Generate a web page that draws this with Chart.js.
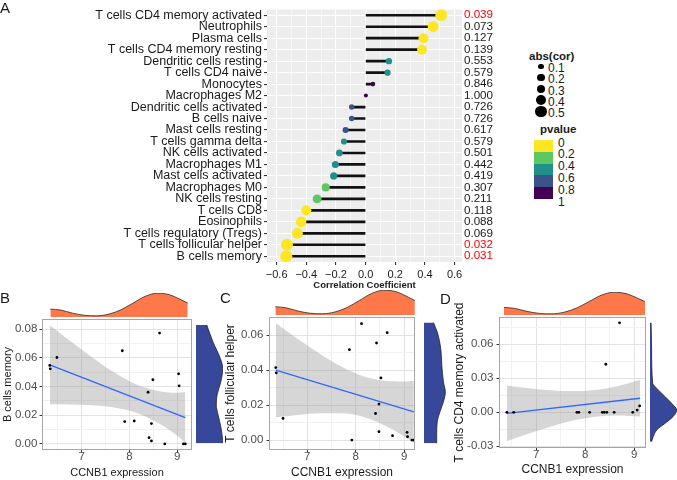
<!DOCTYPE html>
<html>
<head>
<meta charset="utf-8">
<script src="https://cdn.jsdelivr.net/npm/chart.js@4.4.1/dist/chart.umd.min.js"></script>
<style>
  html, body { margin: 0; padding: 0; background: #fff; }
  #fig { position: relative; width: 677px; height: 480px; overflow: hidden;
         font-family: "Liberation Sans", Arial, Helvetica, sans-serif; color: #1a1a1a; }
  #fig canvas { position: absolute; }
  .tag { position: absolute; font-size: 15px; line-height: 15px; }
  .leg { position: absolute; font-size: 12px; line-height: 12px; white-space: nowrap; }
  .legTitle { position: absolute; font-size: 11.5px; line-height: 12px; font-weight: bold; white-space: nowrap; }
</style>
</head>
<body>
<div id="fig"></div>
<script>
// ---------- panel A : correlation of CCNB1 with immune cell fractions ----------
const cellTypes = ['T cells CD4 memory activated', 'Neutrophils', 'Plasma cells', 'T cells CD4 memory resting',
  'Dendritic cells resting', 'T cells CD4 naive', 'Monocytes', 'Macrophages M2', 'Dendritic cells activated',
  'B cells naive', 'Mast cells resting', 'T cells gamma delta', 'NK cells activated', 'Macrophages M1',
  'Mast cells activated', 'Macrophages M0', 'NK cells resting', 'T cells CD8', 'Eosinophils',
  'T cells regulatory (Tregs)', 'T cells follicular helper', 'B cells memory'];
const corValues = [0.51, 0.455, 0.39, 0.38, 0.157, 0.148, 0.049, 0.002, -0.094, -0.094, -0.135, -0.146,
  -0.177, -0.204, -0.215, -0.269, -0.327, -0.40, -0.435, -0.46, -0.53, -0.535];
const pValues = [0.039, 0.073, 0.127, 0.139, 0.553, 0.579, 0.846, 1.000, 0.726, 0.726, 0.617, 0.579,
  0.501, 0.442, 0.419, 0.307, 0.211, 0.118, 0.088, 0.069, 0.032, 0.031];
const corTicks = [-0.6, -0.4, -0.2, 0, 0.2, 0.4, 0.6];
const corTickLabels = ['\u22120.6', '\u22120.4', '\u22120.2', '0.0', '0.2', '0.4', '0.6'];
const sizeLegend = [0.1, 0.2, 0.3, 0.4, 0.5];
const pBreakLabels = ['0', '0.2', '0.4', '0.6', '0.8', '1'];
const pColors = ['#FDE725', '#5DC863', '#21908C', '#3B528B', '#440154'];

// ---------- panels B-D : CCNB1 expression vs cell fraction ----------
const bExpr = [6.33, 6.34, 6.48, 7.85, 7.90, 8.10, 8.39, 8.41, 8.46, 8.46, 8.49, 8.63, 8.74, 9.03, 9.04, 9.13, 9.17];
const bMemory = [0.0547, 0.0523, 0.0602, 0.0649, 0.0156, 0.016, 0.036, 0.0044, 0.0142, 0.0021, 0.0447, 0.0772, 0, 0.0488, 0.0405, 0, 0];
const cExpr = [6.35, 6.36, 6.50, 7.87, 7.92, 8.12, 8.41, 8.43, 8.48, 8.48, 8.52, 8.65, 8.76, 9.06, 9.07, 9.16, 9.20];
const cTfh = [0.0415, 0.0385, 0.0124, 0.0518, 0, 0.0667, 0.0152, 0.0556, 0.0048, 0.0206, 0.0356, 0.0615, 0.0025, 0.0044, 0.0019, 0, 0];
const dExpr = [6.40, 6.54, 7.83, 7.87, 8.09, 8.35, 8.39, 8.42, 8.44, 8.59, 8.70, 8.97, 9.06, 9.11];
const dCd4 = [0, 0, 0, 0, 0, 0, 0, 0.0424, 0, 0, 0.079, 0, 0.002, 0.0056];

const exprTicks = [7, 8, 9];
const bTicks = [0, 0.02, 0.04, 0.06, 0.08];
const cTicks = [0, 0.02, 0.04, 0.06];
const dTicks = [-0.03, 0, 0.03, 0.06];

// fitted lines and confidence bands
const bFitX = [6.33, 9.17], bFitY = [0.0551, 0.0184];
const bBandX = [6.33, 6.75, 7.2, 7.65, 8.1, 8.55, 9.0, 9.17];
const bBandHi = [0.0826, 0.0719, 0.0608, 0.0504, 0.0421, 0.0373, 0.0356, 0.0362];
const bBandLo = [0.0277, 0.0275, 0.027, 0.0256, 0.0223, 0.0155, 0.0059, 0.0010];
const cFitX = [6.35, 9.2], cFitY = [0.040, 0.0162];
const cBandX = [6.35, 6.8, 7.25, 7.7, 8.15, 8.6, 9.0, 9.2];
const cBandHi = [0.067, 0.058, 0.0496, 0.0421, 0.0366, 0.034, 0.0336, 0.0338];
const cBandLo = [0.013, 0.0144, 0.0154, 0.0153, 0.0134, 0.0084, 0.0022, -0.0014];
const dFitX = [6.4, 9.12], dFitY = [-0.0009, 0.0124];
const dBandX = [6.4, 6.85, 7.3, 7.75, 8.2, 8.65, 9.12];
const dBandHi = [0.0237, 0.0213, 0.0195, 0.0187, 0.0197, 0.0231, 0.0286];
const dBandLo = [-0.0255, -0.0187, -0.0125, -0.0073, -0.0039, -0.0029, -0.0038];

// marginal densities (relative height)
const exprGrid = [6.34, 6.55, 6.8, 7.05, 7.3, 7.55, 7.8, 8.05, 8.3, 8.55, 8.8, 9.0, 9.18];
const exprDens = [0.33, 0.29, 0.16, 0.07, 0.05, 0.12, 0.30, 0.58, 0.86, 0.99, 0.93, 0.76, 0.58];
const bDensGrid = [0.0005, 0.0109, 0.0202, 0.0271, 0.0341, 0.0433, 0.0527, 0.0596, 0.0712, 0.0828];
const bDens = [1.0, 0.93, 0.82, 0.75, 0.78, 0.92, 0.99, 0.9, 0.625, 0.4];
const cDensGrid = [-0.0019, 0.0029, 0.0105, 0.0162, 0.0219, 0.0276, 0.0333, 0.0429, 0.0524, 0.0619, 0.0673];
const cDens = [0.47, 0.47, 0.49, 0.59, 0.72, 0.79, 0.72, 0.66, 0.62, 0.49, 0.35];
const dDensGrid = [-0.026, -0.0215, -0.0156, -0.0097, -0.0039, 0.002, 0.0079, 0.0138, 0.0226, 0.0256, 0.055, 0.079];
const dDens = [0.06, 0.12, 0.25, 0.56, 0.85, 0.99, 0.8, 0.56, 0.19, 0.1, 0.06, 0.04];

// ---------- setup ----------
Chart.defaults.font.family = '"Liberation Sans", Arial, Helvetica, sans-serif';
Chart.defaults.color = '#1a1a1a';
Chart.defaults.animation = false;
Chart.defaults.responsive = false;
Chart.defaults.plugins.legend.display = false;
Chart.defaults.plugins.tooltip.enabled = false;

// grey panel background / frame around the plotting area
Chart.register({
  id: 'panelFrame',
  defaults: { fill: null, stroke: null },
  beforeDraw(chart, args, opts) {
    if (!opts.fill) return;
    const a = chart.chartArea, ctx = chart.ctx;
    ctx.save();
    ctx.fillStyle = opts.fill;
    ctx.fillRect(a.left, a.top, a.right - a.left, a.bottom - a.top);
    ctx.restore();
  },
  afterDraw(chart, args, opts) {
    if (!opts.stroke) return;
    const a = chart.chartArea, ctx = chart.ctx;
    ctx.save();
    ctx.strokeStyle = opts.stroke;
    ctx.lineWidth = 1;
    ctx.strokeRect(a.left + 0.5, a.top + 0.5, a.right - a.left - 1, a.bottom - a.top - 1);
    ctx.restore();
  }
});

const fig = document.getElementById('fig');

function makeCanvas(left, top, w, h) {
  const c = document.createElement('canvas');
  c.width = w; c.height = h;
  c.style.left = left + 'px'; c.style.top = top + 'px';
  c.style.width = w + 'px'; c.style.height = h + 'px';
  fig.appendChild(c);
  return c;
}

function addDiv(cls, text, left, top, extra) {
  const d = document.createElement('div');
  d.className = cls;
  d.textContent = text;
  d.style.left = left + 'px';
  d.style.top = top + 'px';
  if (extra) Object.assign(d.style, extra);
  fig.appendChild(d);
  return d;
}

const pColor = p => pColors[Math.min(pColors.length - 1, Math.floor(p / 0.2))];
const dotRadius = v => 2 + 7.6 * Math.abs(v);
const isMajor = (v, major) => major.some(m => Math.abs(m - v) < 1e-9);

// major ticks plus the half-way minor grid lines
function withMinor(major) {
  const step = major[1] - major[0];
  const out = [major[0] - step / 2];
  major.forEach((v, i) => {
    if (i > 0) out.push((major[i - 1] + v) / 2);
    out.push(v);
  });
  out.push(major[major.length - 1] + step / 2);
  return out;
}

// ---------- A ----------
const corGrid = withMinor(corTicks);
new Chart(makeCanvas(0, 0, 500, 292), {
  type: 'bar',
  data: {
    labels: cellTypes,
    datasets: [
      {
        type: 'line', data: corValues, showLine: false, order: 0,
        pointRadius: c => dotRadius(c.raw),
        pointBackgroundColor: c => pColor(pValues[c.dataIndex]),
        pointBorderWidth: 0
      },
      { data: corValues, backgroundColor: '#111', barThickness: 2, order: 1 }
    ]
  },
  options: {
    indexAxis: 'y',
    layout: { padding: 0 },
    plugins: { panelFrame: { fill: '#EDEDED' } },
    scales: {
      x: {
        type: 'linear', min: -0.665, max: 0.65,
        afterBuildTicks: ax => { ax.ticks = corGrid.filter(v => v >= -0.665 && v <= 0.65).map(v => ({ value: v })); },
        afterFit: ax => { ax.height = 30; },
        border: { display: false },
        grid: {
          color: '#fff',
          lineWidth: c => (c.tick && isMajor(c.tick.value, corTicks)) ? 1.1 : 0.5,
          tickColor: c => (c.tick && isMajor(c.tick.value, corTicks)) ? '#333' : 'rgba(0,0,0,0)',
          tickLength: 3
        },
        ticks: {
          autoSkip: false, maxRotation: 0, padding: 3.4, color: '#1a1a1a', font: { size: 11 },
          callback: v => isMajor(v, corTicks) ? corTickLabels[corTicks.findIndex(m => Math.abs(m - v) < 1e-9)] : ''
        },
        title: {
          display: true, text: 'Correlation Coefficient', color: '#1a1a1a',
          font: { size: 9.5, weight: 'bold' }, padding: { top: 0, bottom: 1.3 }
        }
      },
      y: {
        type: 'category', offset: true,
        afterFit: ax => { ax.width = 267; },
        border: { display: false },
        grid: { color: '#fff', lineWidth: 1.1, offset: false, tickColor: '#333', tickLength: 3 },
        ticks: { autoSkip: false, padding: 2, color: '#1a1a1a', font: { size: 12.5 } }
      },
      y2: {
        type: 'category', position: 'right', offset: true,
        labels: pValues.map(p => p.toFixed(3)),
        afterFit: ax => { ax.width = 38; },
        border: { display: false },
        grid: { display: false, drawTicks: false },
        ticks: {
          autoSkip: false, padding: 2, font: { size: 11.6 },
          color: c => pValues[c.index] < 0.05 ? '#FF0000' : '#1a1a1a'
        }
      }
    }
  }
});

// legend of panel A
addDiv('legTitle', 'abs(cor)', 529, 50);
sizeLegend.forEach((v, i) => {
  const cy = 66.7 + 11.25 * i, r = dotRadius(v);
  addDiv('leg', '', 541 - r, cy - r, { width: 2 * r + 'px', height: 2 * r + 'px', borderRadius: '50%', background: '#000' });
  addDiv('leg', String(v), 548, cy + 1.5 - 6);
});
addDiv('legTitle', 'pvalue', 540, 123);
pColors.forEach((col, i) => {
  addDiv('leg', '', 534, 140 + 11.8 * i, { width: '19px', height: '11.8px', background: col });
});
pBreakLabels.forEach((t, i) => addDiv('leg', t, 558, 140 + 11.8 * i + 2.5 - 6));

// ---------- B, C, D ----------
function gridStyle(major) {
  return {
    color: c => (c.tick && isMajor(c.tick.value, major)) ? '#e3e3e3' : '#f1f1f1',
    lineWidth: 1,
    tickColor: c => (c.tick && isMajor(c.tick.value, major)) ? '#333' : 'rgba(0,0,0,0)',
    tickLength: 2.5
  };
}

function scatterPanel(canvas, s) {
  const xAll = withMinor(exprTicks), yAll = withMinor(s.yTicks);
  const pts = (xs, ys) => xs.map((v, i) => ({ x: v, y: ys[i] }));
  new Chart(canvas, {
    type: 'line',
    data: {
      datasets: [
        { data: pts(s.x, s.y), showLine: false, pointRadius: 1.4, pointBackgroundColor: '#000', pointBorderWidth: 0 },
        { data: pts(s.fitX, s.fitY), borderColor: '#3366FF', borderWidth: 1.3, pointRadius: 0 },
        { data: pts(s.bandX, s.bandHi), borderColor: 'rgba(0,0,0,0)', borderWidth: 0, pointRadius: 0,
          fill: '+1', backgroundColor: 'rgba(153,153,153,0.4)', cubicInterpolationMode: 'monotone' },
        { data: pts(s.bandX, s.bandLo), borderColor: 'rgba(0,0,0,0)', borderWidth: 0, pointRadius: 0,
          fill: false, cubicInterpolationMode: 'monotone' }
      ]
    },
    options: {
      layout: { padding: { top: s.padTop, right: s.padRight, left: 0, bottom: 0 } },
      plugins: { panelFrame: { stroke: '#a6a6a6' } },
      scales: {
        x: {
          type: 'linear', min: s.xMin, max: s.xMax,
          afterBuildTicks: ax => { ax.ticks = xAll.filter(v => v >= s.xMin && v <= s.xMax).map(v => ({ value: v })); },
          afterFit: ax => { ax.height = s.axisH; },
          border: { display: false },
          grid: gridStyle(exprTicks),
          ticks: {
            autoSkip: false, maxRotation: 0, padding: 0, color: '#4d4d4d', font: { size: 11.5, lineHeight: 0.8 },
            callback: v => isMajor(v, exprTicks) ? String(v) : ''
          },
          title: { display: true, text: 'CCNB1 expression', color: '#1a1a1a',
                   font: { size: s.titleSize }, padding: { top: 0, bottom: s.xTitlePad } }
        },
        y: {
          type: 'linear', min: s.yMin, max: s.yMax,
          afterBuildTicks: ax => { ax.ticks = yAll.filter(v => v >= s.yMin && v <= s.yMax).map(v => ({ value: v })); },
          afterFit: ax => { ax.width = s.axisW; },
          border: { display: false },
          grid: gridStyle(s.yTicks),
          ticks: {
            autoSkip: false, padding: s.yTickPad, color: '#4d4d4d', font: { size: 11.5 },
            callback: v => isMajor(v, s.yTicks) ? v.toFixed(2) : ''
          },
          title: { display: true, text: s.yLabel, color: '#1a1a1a',
                   font: { size: s.titleSize }, padding: { top: s.yTitlePad, bottom: 0 } }
        }
      }
    }
  });
}

function topDensity(canvas, xMin, xMax, pad) {
  new Chart(canvas, {
    type: 'line',
    data: { datasets: [{
      data: exprGrid.map((v, i) => ({ x: v, y: exprDens[i] })),
      fill: 'origin', backgroundColor: '#FF7849', borderColor: '#2b2b2b', borderWidth: 0.8,
      pointRadius: 0, cubicInterpolationMode: 'monotone'
    }] },
    options: {
      layout: { padding: pad },
      scales: {
        x: { type: 'linear', min: xMin, max: xMax, display: false },
        y: { type: 'linear', min: 0, max: 1, display: false }
      }
    }
  });
}

function sideDensity(canvas, grid, dens, yMin, yMax, pad) {
  new Chart(canvas, {
    type: 'line',
    data: { datasets: [{
      data: grid.map((v, i) => ({ x: dens[i], y: v })),
      fill: 'origin', backgroundColor: '#37489B', borderColor: '#222', borderWidth: 0.8,
      pointRadius: 0, cubicInterpolationMode: 'monotone'
    }] },
    options: {
      indexAxis: 'y',
      layout: { padding: pad },
      scales: {
        x: { type: 'linear', min: 0, max: 1, display: false },
        y: { type: 'linear', min: yMin, max: yMax, display: false }
      }
    }
  });
}

// B
scatterPanel(makeCanvas(0, 300, 196, 180), {
  x: bExpr, y: bMemory, fitX: bFitX, fitY: bFitY, bandX: bBandX, bandHi: bBandHi, bandLo: bBandLo,
  xMin: 6.167, xMax: 9.31, yMin: -0.0042, yMax: 0.087, yTicks: bTicks, yLabel: 'B cells memory',
  padTop: 19, padRight: 2, axisW: 42, axisH: 30, titleSize: 11, yTitlePad: 1.4, xTitlePad: 0.7, yTickPad: 2.2
});
topDensity(makeCanvas(0, 290, 196, 28), 6.167, 9.31, { left: 42, right: 2, top: 3, bottom: 1 });
sideDensity(makeCanvas(194, 300, 34, 150), bDensGrid, bDens, -0.0042, 0.087, { left: 2, right: 5, top: 19, bottom: 0 });

// C
scatterPanel(makeCanvas(220, 297, 199, 183), {
  x: cExpr, y: cTfh, fitX: cFitX, fitY: cFitY, bandX: cBandX, bandHi: cBandHi, bandLo: cBandLo,
  xMin: 6.21, xMax: 9.224, yMin: -0.0057, yMax: 0.0705, yTicks: cTicks, yLabel: 'T cells follicular helper',
  padTop: 20, padRight: 2, axisW: 49, axisH: 30, titleSize: 12, yTitlePad: 3.8, xTitlePad: 0, yTickPad: 3.2
});
topDensity(makeCanvas(220, 288, 199, 28), 6.21, 9.224, { left: 49, right: 2, top: 2, bottom: 1 });
sideDensity(makeCanvas(417, 297, 38, 153), cDensGrid, cDens, -0.0057, 0.0705, { left: 7, right: 4, top: 20, bottom: 0 });

// D
scatterPanel(makeCanvas(440, 297, 210, 183), {
  x: dExpr, y: dCd4, fitX: dFitX, fitY: dFitY, bandX: dBandX, bandHi: dBandHi, bandLo: dBandLo,
  xMin: 6.24, xMax: 9.24, yMin: -0.0315, yMax: 0.0841, yTicks: dTicks, yLabel: 'T cells CD4 memory activated',
  padTop: 20, padRight: 2, axisW: 59, axisH: 32, titleSize: 12, yTitlePad: 12.8, xTitlePad: 2.8, yTickPad: 3.2
});
topDensity(makeCanvas(440, 289, 210, 27), 6.24, 9.24, { left: 59, right: 2, top: 3, bottom: 1 });
sideDensity(makeCanvas(648, 297, 29, 151), dDensGrid, dDens, -0.0315, 0.0841, { left: 2, right: 0, top: 20, bottom: 0 });

// panel tags
addDiv('tag', 'A', 0, 0);
addDiv('tag', 'B', 0, 290);
addDiv('tag', 'C', 220, 290);
addDiv('tag', 'D', 440, 291);
</script>
</body>
</html>
